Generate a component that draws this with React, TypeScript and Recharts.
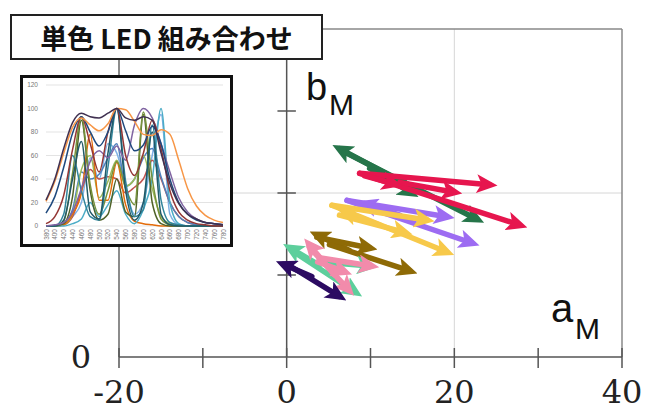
import React from 'react';
import { ComposedChart, LineChart, Line, XAxis, YAxis, CartesianGrid, ReferenceLine } from 'recharts';

// ---------- main chart data (aM, bM) ----------
const xTicks = [-20, -10, 0, 10, 20, 30, 40];
const xTickLabels = ['-20', '', '0', '', '20', '', '40'];
const yTicks = [0];
const yTickLabels = ['0'];
const yAxisTicks = [10, 20, 30];

// each arrow: [a start, b start, a end, b end]
const greenArrows = [[12.9, 21.8, 6.3, 25.4], [6.9, 25.0, 22.7, 16.8], [9.9, 23.0, 14.9, 20.0]];
const redArrows = [[8.7, 22.4, 24.2, 21.0], [8.7, 22.4, 27.8, 16.1], [13.5, 21.3, 20.0, 20.1], [9.3, 22.1, 12.9, 21.1]];
const purpleArrows = [[7.2, 19.1, 19.1, 17.1], [7.2, 19.1, 22.1, 13.9], [13.5, 17.3, 9.3, 18.7]];
const yellowArrows = [[5.4, 18.5, 19.1, 12.8], [5.4, 18.5, 16.7, 16.7], [11.1, 16.1, 6.9, 17.7], [6.3, 17.3, 14.1, 15.2]];
const brownArrows = [[7.5, 13.0, 3.6, 14.9], [3.6, 14.6, 9.9, 13.3], [5.1, 13.7, 14.7, 10.5]];
const mintArrows = [[3.9, 11.2, 0.4, 13.3], [0.6, 13.0, 8.2, 7.9], [3.9, 11.6, 9.9, 11.1]];
const pinkArrows = [[5.7, 10.0, 2.7, 13.7], [2.7, 13.4, 7.4, 8.2], [3.9, 12.1, 10.1, 11.1], [3.7, 11.6, 6.9, 10.4]];
const indigoArrows = [[3.0, 9.8, -0.4, 11.3], [0.4, 11.1, 6.3, 7.4]];

const arrowGroups = [
  { id: 'green', color: '#26754a', arrows: greenArrows },
  { id: 'red', color: '#e6164e', arrows: redArrows },
  { id: 'purple', color: '#9d6cf2', arrows: purpleArrows },
  { id: 'yellow', color: '#f7c94a', arrows: yellowArrows },
  { id: 'brown', color: '#8e6a06', arrows: brownArrows },
  { id: 'mint', color: '#5dcf9c', arrows: mintArrows },
  { id: 'pink', color: '#f28bab', arrows: pinkArrows },
  { id: 'indigo', color: '#2c0b62', arrows: indigoArrows },
];

// ---------- inset spectra ----------
const wavelengths = [380, 400, 420, 440, 460, 480, 500, 520, 540, 560, 580, 600, 620, 640, 660, 680, 700, 720, 740, 760, 780];
const specTicks = [0, 20, 40, 60, 80, 100, 120];
const s1 = [22, 40, 66, 88, 96, 93, 92, 96, 100, 92, 90, 93, 90, 62, 36, 19, 10, 6, 3, 2, 1];
const s2 = [21, 38, 62, 84, 92, 86, 81, 87, 100, 99, 89, 78, 77, 82, 78, 56, 32, 17, 9, 5, 3];
const s3 = [11, 25, 50, 79, 93, 80, 68, 80, 100, 81, 64, 69, 85, 70, 40, 20, 10, 5, 3, 2, 1];
const s4 = [2, 8, 26, 65, 93, 70, 46, 80, 100, 60, 43, 62, 90, 66, 30, 12, 5, 2, 1, 0, 0];
const s5 = [0, 1, 3, 12, 32, 55, 64, 58, 68, 56, 86, 100, 92, 70, 46, 24, 12, 6, 3, 2, 1];
const s6 = [0, 0, 2, 14, 46, 40, 44, 58, 70, 34, 40, 58, 66, 42, 20, 8, 3, 1, 0, 0, 0];
const s7 = [0, 0, 1, 8, 30, 48, 40, 42, 40, 28, 33, 40, 56, 40, 20, 8, 3, 1, 0, 0, 0];
const s8 = [0, 0, 10, 60, 30, 8, 5, 50, 100, 38, 8, 14, 86, 22, 3, 1, 0, 0, 0, 0, 0];
const s9 = [0, 0, 4, 45, 93, 35, 10, 30, 55, 32, 18, 97, 40, 6, 1, 0, 0, 0, 0, 0, 0];
const s10 = [0, 0, 1, 10, 28, 78, 22, 22, 54, 18, 4, 2, 1, 0, 0, 0, 0, 0, 0, 0, 0];
const s11 = [0, 0, 1, 10, 48, 60, 24, 38, 56, 34, 40, 60, 32, 8, 2, 0, 0, 0, 0, 0, 0];
const s12 = [0, 0, 0, 2, 6, 20, 8, 18, 30, 10, 2, 14, 40, 100, 20, 2, 0, 0, 0, 0, 0];
const s13 = [0, 0, 5, 40, 72, 12, 6, 62, 100, 30, 5, 20, 80, 10, 1, 0, 0, 0, 0, 0, 0];
const s14 = [0, 0, 1, 8, 20, 58, 40, 70, 62, 32, 10, 20, 60, 95, 10, 1, 0, 0, 0, 0, 0];
const s15 = [0, 0, 2, 25, 90, 30, 5, 10, 40, 12, 8, 95, 20, 2, 0, 0, 0, 0, 0, 0, 0];

const specSeries = [
  { key: 's14', color: '#7fb2e5', values: s14 },
  { key: 's7', color: '#c0504d', values: s7 },
  { key: 's6', color: '#4f81bd', values: s6 },
  { key: 's11', color: '#9bbb59', values: s11 },
  { key: 's10', color: '#e46c0a', values: s10 },
  { key: 's12', color: '#4bacc6', values: s12 },
  { key: 's15', color: '#4f6228', values: s15 },
  { key: 's9', color: '#77933c', values: s9 },
  { key: 's8', color: '#31859c', values: s8 },
  { key: 's13', color: '#215968', values: s13 },
  { key: 's5', color: '#8064a2', values: s5 },
  { key: 's4', color: '#943634', values: s4 },
  { key: 's3', color: '#1f497d', values: s3 },
  { key: 's2', color: '#f79646', values: s2 },
  { key: 's1', color: '#403151', values: s1 },
];

const specData = wavelengths.map((nm, i) => {
  const row: any = { nm };
  specSeries.forEach((s) => { row[s.key] = s.values[i]; });
  return row;
});

const AXIS_Y = 357;
const SERIF = '"DejaVu Serif", "Liberation Serif", serif';

const XTick = (props: any) => {
  const { x, payload } = props;
  const idx = xTicks.indexOf(payload.value);
  const label = xTickLabels[idx];
  return (
    <g>
      <line x1={x} x2={x} y1={AXIS_Y - 9} y2={AXIS_Y + 11} stroke="#555" strokeWidth={1.5} />
      {label ? (
        <text x={x} y={AXIS_Y + 46} textAnchor="middle" style={{ fontFamily: SERIF, fontSize: 32 }} fill="#222">{label}</text>
      ) : null}
    </g>
  );
};

const YTick = (props: any) => {
  const { y, payload } = props;
  const idx = yTicks.indexOf(payload.value);
  return (
    <text x={81} y={y + 11} textAnchor="middle" style={{ fontFamily: SERIF, fontSize: 32 }} fill="#222">{yTickLabels[idx]}</text>
  );
};

const SpecTick = (props: any) => {
  const { x, y, payload } = props;
  const ty = y - 5;
  return (
    <text x={x} y={ty} transform={`rotate(-90 ${x} ${ty})`} textAnchor="end" dominantBaseline="central" style={{ fontFamily: '"Liberation Sans", sans-serif', fontSize: 6.5 }} fill="#777">{payload.value}</text>
  );
};

export default function App() {
  return (
    <div style={{ position: 'absolute', left: 0, top: 0, width: 651, height: 412, background: '#fff', overflow: 'hidden' }}>
      <svg width={0} height={0} style={{ position: 'absolute' }}>
        <defs>
          {arrowGroups.map((g) => (
            <marker key={g.id} id={`ah-${g.id}`} markerUnits="userSpaceOnUse" markerWidth={21} markerHeight={19} refX={13} refY={9.5} orient="auto">
              <path d="M0,0 L21,9.5 L0,19 L5,9.5 Z" fill={g.color} />
            </marker>
          ))}
        </defs>
      </svg>
      <div style={{ position: 'absolute', left: 0, top: 0 }}>
        <ComposedChart width={651} height={412} margin={{ top: 29, right: 29, bottom: 15, left: 0 }}>
          <XAxis dataKey="x" type="number" domain={[-20, 40]} ticks={xTicks} allowDataOverflow axisLine={{ stroke: '#555', strokeWidth: 1.5 }} tickLine={false} tick={<XTick />} height={40} />
          <YAxis type="number" domain={[0, 40]} ticks={yTicks} allowDataOverflow axisLine={false} tickLine={false} tick={<YTick />} width={119} />
          <ReferenceLine x={20} stroke="#d6d6d6" strokeWidth={1} />
          <ReferenceLine y={20} stroke="#d6d6d6" strokeWidth={1} />
          <ReferenceLine x={-20} stroke="#666" strokeWidth={1.5} />
          <ReferenceLine x={40} stroke="#888" strokeWidth={1.5} />
          <ReferenceLine y={40} stroke="#888" strokeWidth={1.5} />
          <ReferenceLine x={0} stroke="#555" strokeWidth={1.5} />
          {yAxisTicks.map((b) => (
            <ReferenceLine key={`yt${b}`} segment={[{ x: -1.1, y: b }, { x: 1.1, y: b }]} stroke="#555" strokeWidth={1.5} />
          ))}
          {arrowGroups.map((g) =>
            g.arrows.map((a, i) => (
              <Line
                key={`${g.id}-${i}`}
                data={[{ x: a[0], y: a[1] }, { x: a[2], y: a[3] }]}
                dataKey="y"
                type="linear"
                stroke={g.color}
                strokeWidth={5.5}
                strokeLinecap="round"
                dot={false}
                activeDot={false}
                legendType="none"
                isAnimationActive={false}
                markerEnd={`url(#ah-${g.id})`}
              />
            ))
          )}
        </ComposedChart>
      </div>
      <svg width={651} height={412} style={{ position: 'absolute', left: 0, top: 0, pointerEvents: 'none' }}>
        <text x={306} y={100} style={{ fontFamily: '"Liberation Sans", Arial, sans-serif', fontSize: 38 }} fill="#111">b</text>
        <text x={329} y={115} style={{ fontFamily: '"Liberation Sans", Arial, sans-serif', fontSize: 30 }} fill="#111">M</text>
        <text x={551} y={322} style={{ fontFamily: '"Liberation Sans", Arial, sans-serif', fontSize: 40 }} fill="#111">a</text>
        <text x={575} y={339} style={{ fontFamily: '"Liberation Sans", Arial, sans-serif', fontSize: 30 }} fill="#111">M</text>
      </svg>
      <div style={{ position: 'absolute', left: 10, top: 14, width: 309, height: 42, border: '2px solid #222', background: '#fff', display: 'flex', alignItems: 'center', justifyContent: 'center', fontFamily: "'Noto Sans CJK JP', sans-serif", fontWeight: 700, fontSize: 27, color: '#111', whiteSpace: 'pre' }}>
        単色 LED 組み合わせ
      </div>
      <div style={{ position: 'absolute', left: 20, top: 75, width: 207, height: 166, border: '3px solid #111', background: '#fff' }}>
        <LineChart width={207} height={166} data={specData} margin={{ top: 7, right: 7, bottom: 4, left: 0 }}>
          <CartesianGrid vertical={false} stroke="#dcdcdc" strokeWidth={0.8} />
          <XAxis dataKey="nm" interval={0} axisLine={false} tickLine={false} tick={<SpecTick />} height={14} />
          <YAxis domain={[0, 120]} ticks={specTicks} width={23} axisLine={false} tickLine={false} tick={{ fontSize: 6.5, fill: '#777', fontFamily: "'Liberation Sans', sans-serif" }} />
          {specSeries.map((s) => (
            <Line key={s.key} dataKey={s.key} type="monotone" stroke={s.color} strokeWidth={1.5} dot={false} activeDot={false} isAnimationActive={false} />
          ))}
        </LineChart>
      </div>
    </div>
  );
}
